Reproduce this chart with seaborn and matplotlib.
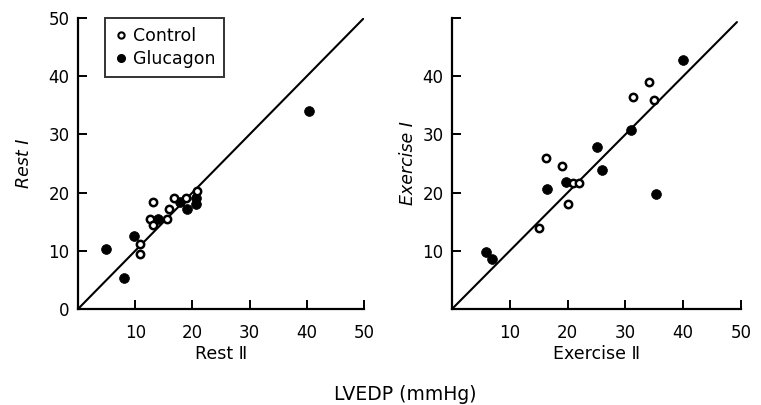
import matplotlib
matplotlib.use("Agg")
import matplotlib.pyplot as plt
import seaborn as sns
import pandas as pd
from matplotlib.lines import Line2D

sns.set_style("white")
plt.rcParams['font.family'] = ['DejaVu Sans']
plt.rcParams['text.color'] = 'black'
plt.rcParams['axes.labelcolor'] = 'black'
plt.rcParams['xtick.color'] = 'black'
plt.rcParams['ytick.color'] = 'black'

# Left panel: Rest II (x) vs Rest I (y)
rest_ctrl_x = [13.1, 12.6, 13.1, 10.8, 10.8, 15.5, 15.9, 16.7, 18.8, 20.8]
rest_ctrl_y = [18.4, 15.4, 14.4, 11.1, 9.5, 15.4, 17.2, 19.0, 19.1, 20.3]
rest_gluc_x = [4.9, 8.1, 9.8, 14.0, 17.9, 19.1, 20.7, 20.7, 40.3]
rest_gluc_y = [10.3, 5.4, 12.5, 15.5, 18.3, 17.2, 19.0, 18.1, 34.0]

# Right panel: Exercise II (x) vs Exercise I (y)
ex_ctrl_x = [16.3, 19.0, 15.0, 20.0, 20.9, 21.9, 31.3, 34.1, 35.0]
ex_ctrl_y = [25.9, 24.6, 14.0, 18.1, 21.7, 21.7, 36.4, 39.0, 35.9]
ex_gluc_x = [5.9, 6.9, 16.4, 19.8, 25.1, 26.0, 30.9, 35.3, 39.9]
ex_gluc_y = [9.8, 8.6, 20.7, 21.9, 27.8, 23.9, 30.8, 19.8, 42.8]

identity_rest = [0, 50]
identity_ex = [0, 49.3]

ticks = [0, 10, 20, 30, 40, 50]
left_ylabels = ['0', '10', '20', '30', '40', '50']
right_ylabels = ['', '10', '20', '30', '40', '']
left_xlabels = ['', '10', '20', '30', '40', '50']

fig = plt.figure(figsize=(7.61, 4.05), dpi=100)
axL = fig.add_axes([78/761, (405-309)/405, 286/761, 291/405])
axR = fig.add_axes([452/761, (405-309)/405, 289/761, 291/405])

def panel(ax, cx, cy, gx, gy, ident, xlabel, ylabel, ylabels, ylpad):
    sns.lineplot(x=ident, y=ident, ax=ax, color='black', lw=1.5)
    sns.scatterplot(x=gx, y=gy, ax=ax, color='black', edgecolor='black',
                    s=50, marker='o', linewidth=0.5, zorder=3)
    sns.scatterplot(x=cx, y=cy, ax=ax, color='white', edgecolor='black',
                    s=28, marker='o', linewidth=1.8, zorder=4)
    ax.set_xlim(0, 50)
    ax.set_ylim(0, 50)
    ax.set_xticks(ticks)
    ax.set_yticks(ticks)
    ax.set_xticklabels(left_xlabels, fontsize=12)
    ax.set_yticklabels(ylabels, fontsize=12)
    ax.tick_params(direction='in', length=6.5, width=1.4, color='black',
                   bottom=True, left=True, top=False, right=False)
    ax.tick_params(axis='x', pad=11)
    ax.tick_params(axis='y', pad=6)
    for s in ['top', 'right']:
        ax.spines[s].set_visible(False)
    for s in ['left', 'bottom']:
        ax.spines[s].set_linewidth(1.6)
        ax.spines[s].set_color('black')
    ax.set_xlabel(xlabel, fontsize=12.5, labelpad=2)
    ax.set_ylabel(ylabel, fontsize=12.5, style='italic', labelpad=ylpad)
    ax.patch.set_alpha(0)

panel(axL, rest_ctrl_x, rest_ctrl_y, rest_gluc_x, rest_gluc_y, identity_rest,
      'Rest \u2161', 'Rest \u2160', left_ylabels, 11)
panel(axR, ex_ctrl_x, ex_ctrl_y, ex_gluc_x, ex_gluc_y, identity_ex,
      'Exercise \u2161', 'Exercise \u2160', right_ylabels, 4)

handles = [
    Line2D([], [], marker='o', ls='', markerfacecolor='white', markeredgecolor='black',
           markersize=4.5, markeredgewidth=1.5, label='Control'),
    Line2D([], [], marker='o', ls='', markerfacecolor='black', markeredgecolor='black',
           markersize=5.5, label='Glucagon'),
]
leg = axL.legend(handles=handles, loc='upper left', bbox_to_anchor=(0.094, 1.0),
                 borderaxespad=0, fancybox=False, frameon=True, fontsize=12.5,
                 handlelength=0.8, handletextpad=0.3, borderpad=0.5, labelspacing=0.3)
leg.get_frame().set_edgecolor('black')
leg.get_frame().set_linewidth(1.4)

fig.text(405/761, 1 - 395/405, 'LVEDP (mmHg)', ha='center', va='center', fontsize=13.5)

fig.savefig('out.png', dpi=100)
